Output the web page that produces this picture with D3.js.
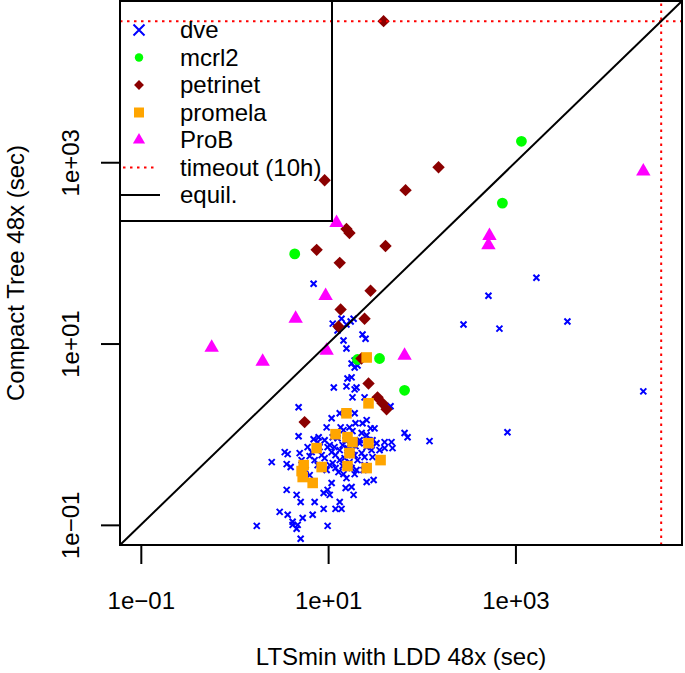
<!DOCTYPE html>
<html><head><meta charset="utf-8">
<script src="https://cdn.jsdelivr.net/npm/d3@7"></script>
<style>
body{margin:0;background:#fff}
text{font-family:"Liberation Sans",Arial,Helvetica,sans-serif}
</style>
</head><body>
<svg id="chart" width="685" height="673"></svg>
<script>
// ---------- data (seconds) ----------
const TIMEOUT = 36000; // 10h
const axisLimits = [0.1, TIMEOUT];
const tickValues = [0.1, 10, 1000];
const tickLabels = ["1e\u221201", "1e+01", "1e+03"];
const xTitle = "LTSmin with LDD 48x (sec)";
const yTitle = "Compact Tree 48x (sec)";
const seriesNames = ["dve", "mcrl2", "petrinet", "promela", "ProB"];
const seriesColors = ["#0000FF", "#00FF00", "#8B0000", "#FFA500", "#FF00FF"];

const dveX = [
 1675, 515, 279, 675, 3590, 23200, 822, 121, 65.5, 70.5,
 7.00, 11.2, 13.9, 15.7, 17.4, 18.7, 12.6, 23.3, 25.1, 14.6,
 15.7, 17.8, 19.2, 20.6, 19.2, 16.1, 17.8, 11.5, 15.7, 19.2,
 20.1, 18.2, 24.5, 46.4, 4.84, 13.3, 19.2, 10.9, 9.64, 23.3,
 25.8, 28.4, 31.3, 19.6, 14.6, 18.2, 22.8, 25.8, 4.84, 7.00,
 7.92, 7.73, 10.4, 11.7, 21.7, 25.8, 29.1, 32.9, 40.1, 47.5,
 48.7, 40.1, 3.44, 3.70, 4.97, 2.50, 3.61, 3.98, 6.67, 6.35,
 7.18, 9.18, 22.8, 24.5, 29.8, 11.2, 12.9, 14.6, 15.7, 19.2,
 6.35, 25.8, 30.6, 10.9, 15.4, 17.8, 9.88, 8.96, 10.4, 18.7,
 3.61, 4.61, 5.09, 7.18, 13.3, 8.96, 12.0, 13.9, 3.04, 3.70,
 6.84, 5.35, 4.18, 4.18, 4.73, 4.61, 9.88, 1.73, 5.09, 9.18,
 9.88, 10.9, 12.0, 13.3, 14.3, 15.4, 16.1, 16.9, 18.2, 19.6,
 13.3, 15.0, 16.9, 19.2, 20.6, 10.4, 12.0, 14.3, 17.8, 8.11,
 8.53, 7.73, 9.64, 21.7, 12.6, 11.2, 27.7, 20.1, 16.1, 6.04,
 5.21, 5.75, 24.5, 13.6, 16.9, 29.8, 35.4, 23.9
];
const dveY = [
 53.1, 33.7, 16.2, 14.6, 17.5, 2.97, 1.05, 0.838, 1.03, 0.927,
 45.6, 16.6, 18.8, 16.2, 17.5, 18.8, 13.9, 12.6, 11.3, 10.8,
 8.81, 6.03, 5.45, 5.73, 6.50, 4.12, 4.23, 3.28, 3.37, 3.12,
 3.28, 2.55, 2.55, 2.03, 1.98, 1.70, 1.70, 1.50, 1.19, 1.32,
 1.43, 1.16, 1.16, 1.32, 1.11, 1.08, 1.03, 0.975, 0.951, 0.881,
 0.927, 0.817, 0.757, 0.720, 0.796, 0.720, 0.667, 0.796, 0.817, 0.817,
 0.702, 0.702, 0.634, 0.603, 0.618, 0.492, 0.468, 0.434, 0.634, 0.573,
 0.518, 0.545, 0.618, 0.559, 0.559, 0.480, 0.382, 0.363, 0.328, 0.363,
 0.354, 0.297, 0.312, 0.290, 0.255, 0.262, 0.243, 0.225, 0.214, 0.214,
 0.243, 0.214, 0.179, 0.179, 0.179, 0.150, 0.150, 0.150, 0.139, 0.129,
 0.129, 0.119, 0.108, 0.100, 0.100, 0.0904, 0.0975, 0.0975, 0.0702, 0.859,
 0.720, 0.634, 0.588, 0.667, 0.757, 0.859, 0.702, 0.776, 0.667, 0.738,
 0.518, 0.545, 0.492, 0.588, 0.518, 0.456, 0.423, 0.445, 0.423, 0.720,
 0.588, 0.456, 0.402, 0.859, 0.904, 0.927, 0.859, 0.402, 0.588, 0.720,
 0.518, 0.402, 0.456, 1.19, 1.19, 0.859, 0.667, 0.402
];
const mcrl2X = [1159, 726, 4.40, 35.4, 20.6, 65.5];
const mcrl2Y = [1702, 354, 97.5, 6.84, 6.67, 3.05];
const petrinetX = [39.1, 9.18, 151, 67.1, 15.7, 16.9, 7.54, 41.0, 13.3, 28.4,
                   13.6, 24.5, 12.9, 22.7, 27.0, 33.7, 38.1, 42.1, 5.61];
const petrinetY = [36000, 634, 881, 492, 184, 166, 108, 119, 77.6, 38.2,
                   23.7, 18.8, 15.4, 6.84, 3.63, 2.55, 2.19, 1.88, 1.36];
const promelaX = [25.8, 27.0, 15.7, 12.0, 16.1, 18.2, 27.0, 7.54, 16.9, 36.3,
                  5.48, 8.53, 16.1, 25.8, 5.21, 5.35, 6.84];
const promelaY = [7.02, 2.19, 1.70, 1.00, 0.927, 0.817, 0.796, 0.702, 0.618, 0.518,
                  0.456, 0.434, 0.445, 0.423, 0.392, 0.337, 0.290];
const probX = [23200, 528, 515, 12.3, 9.40, 4.50, 0.571, 2.00, 9.64, 65.5];
const probY = [796, 154, 122, 214, 33.6, 18.8, 9.04, 6.34, 8.37, 7.38];

// ---------- layout ----------
const P = {left: 120, right: 682, top: 1, bottom: 545};
const FS = 24;
const svg = d3.select("#chart");
svg.append("rect").attr("width", 685).attr("height", 673).attr("fill", "#fff");

const lg = Math.log10;
const ext = 0.04 * (lg(axisLimits[1]) - lg(axisLimits[0]));
const domain = [Math.pow(10, lg(axisLimits[0]) - ext), Math.pow(10, lg(axisLimits[1]) + ext)];
const x = d3.scaleLog().domain(domain).range([P.left, P.right]);
const y = d3.scaleLog().domain(domain).range([P.bottom, P.top]);

// ---------- symbols ----------
function crossPath(h) { return `M${-h},${-h}L${h},${h}M${-h},${h}L${h},${-h}`; }
const symCircle = s => d3.symbol(d3.symbolCircle, s)();
const symDiamond = s => d3.symbol(d3.symbolDiamond2, s)();
const symSquare = s => d3.symbol(d3.symbolSquare, s)();
const symTriangle = s => d3.symbol(d3.symbolTriangle, s)();

const series = [
  {xs: dveX, ys: dveY, type: "cross", size: 3},
  {xs: mcrl2X, ys: mcrl2Y, type: "circle", size: 92},
  {xs: petrinetX, ys: petrinetY, type: "diamond", size: 98},
  {xs: promelaX, ys: promelaY, type: "square", size: 112},
  {xs: probX, ys: probY, type: "triangle", size: 90}
];
function pathFor(type, size) {
  if (type === "cross") return crossPath(size);
  if (type === "circle") return symCircle(size);
  if (type === "diamond") return symDiamond(size);
  if (type === "square") return symSquare(size);
  return symTriangle(size);
}

const plot = svg.append("g");
series.forEach((s, k) => {
  const pts = s.xs.map((v, i) => [v, s.ys[i]]);
  const g = plot.append("g").attr("class", "series-" + seriesNames[k]);
  g.selectAll("path").data(pts).join("path")
    .attr("transform", d => `translate(${x(d[0])},${y(d[1])})`)
    .attr("d", pathFor(s.type, s.size))
    .attr("fill", s.type === "cross" ? "none" : seriesColors[k])
    .attr("stroke", s.type === "cross" ? seriesColors[k] : "none")
    .attr("stroke-width", s.type === "cross" ? 2 : 0);
});

// timeout lines
svg.append("line").attr("x1", x(domain[0])).attr("x2", x(domain[1]))
  .attr("y1", y(TIMEOUT)).attr("y2", y(TIMEOUT))
  .attr("stroke", "#FF0000").attr("stroke-width", 2).attr("stroke-dasharray", "2.5,4.5");
svg.append("line").attr("y1", y(domain[0])).attr("y2", y(domain[1]))
  .attr("x1", x(TIMEOUT)).attr("x2", x(TIMEOUT))
  .attr("stroke", "#FF0000").attr("stroke-width", 2).attr("stroke-dasharray", "2.5,4.5");
// equality line
svg.append("line").attr("x1", x(domain[0])).attr("y1", y(domain[0]))
  .attr("x2", x(domain[1])).attr("y2", y(domain[1]))
  .attr("stroke", "#000").attr("stroke-width", 2);

// frame
svg.append("rect").attr("x", P.left).attr("y", P.top)
  .attr("width", P.right - P.left).attr("height", P.bottom - P.top)
  .attr("fill", "none").attr("stroke", "#000").attr("stroke-width", 2);

// x axis
const xa = svg.append("g").attr("transform", `translate(0,${P.bottom})`)
  .call(d3.axisBottom(x).tickValues(tickValues).tickFormat((d, i) => tickLabels[i]).tickSize(19));
xa.select(".domain").remove();
xa.selectAll("line").attr("stroke", "#000").attr("stroke-width", 2);
xa.selectAll("text").attr("y", 56).attr("dy", "0.35em").attr("font-size", FS)
  .attr("fill", "#000").style("font-family", '"Liberation Sans",Arial,sans-serif');

// y axis (rotated labels)
const ya = svg.append("g").attr("transform", `translate(${P.left},0)`)
  .call(d3.axisLeft(y).tickValues(tickValues).tickFormat((d, i) => tickLabels[i]).tickSize(19));
ya.select(".domain").remove();
ya.selectAll("line").attr("stroke", "#000").attr("stroke-width", 2);
ya.selectAll(".tick text")
  .attr("x", 0).attr("y", 0).attr("dy", 0)
  .attr("text-anchor", "middle").attr("font-size", FS).attr("fill", "#000")
  .style("font-family", '"Liberation Sans",Arial,sans-serif')
  .attr("transform", "translate(-41,0) rotate(-90)");

// axis titles
svg.append("text").attr("x", (P.left + P.right) / 2).attr("y", 665)
  .attr("text-anchor", "middle").attr("font-size", FS).text(xTitle);
svg.append("text").attr("transform", `translate(24,${(P.top + P.bottom) / 2}) rotate(-90)`)
  .attr("text-anchor", "middle").attr("font-size", FS).text(yTitle);

// ---------- legend ----------
const legendLabels = seriesNames.concat(["timeout (10h)", "equil."]);
const legend = svg.append("g");
legend.append("rect").attr("x", P.left).attr("y", P.top).attr("width", 212).attr("height", 220)
  .attr("fill", "none").attr("stroke", "#000").attr("stroke-width", 2);
const legendSizes = [5.5, 56, 62, 100, 64];
legendLabels.forEach((lab, i) => {
  const cy = 30 + i * 27.5;
  if (i < 5) {
    const t = series[i].type;
    legend.append("path").attr("transform", `translate(139,${cy})`)
      .attr("d", pathFor(t, legendSizes[i]))
      .attr("fill", t === "cross" ? "none" : seriesColors[i])
      .attr("stroke", t === "cross" ? seriesColors[i] : "none")
      .attr("stroke-width", t === "cross" ? 2 : 0);
  } else if (i === 5) {
    legend.append("line").attr("x1", 123).attr("x2", 157).attr("y1", cy).attr("y2", cy)
      .attr("stroke", "#FF0000").attr("stroke-width", 2).attr("stroke-dasharray", "2.5,4.5");
  } else {
    legend.append("line").attr("x1", 120).attr("x2", 160).attr("y1", cy).attr("y2", cy)
      .attr("stroke", "#000").attr("stroke-width", 2);
  }
  legend.append("text").attr("x", 180).attr("y", cy).attr("dy", "0.35em")
    .attr("font-size", FS).text(lab);
});
</script>
</body></html>
